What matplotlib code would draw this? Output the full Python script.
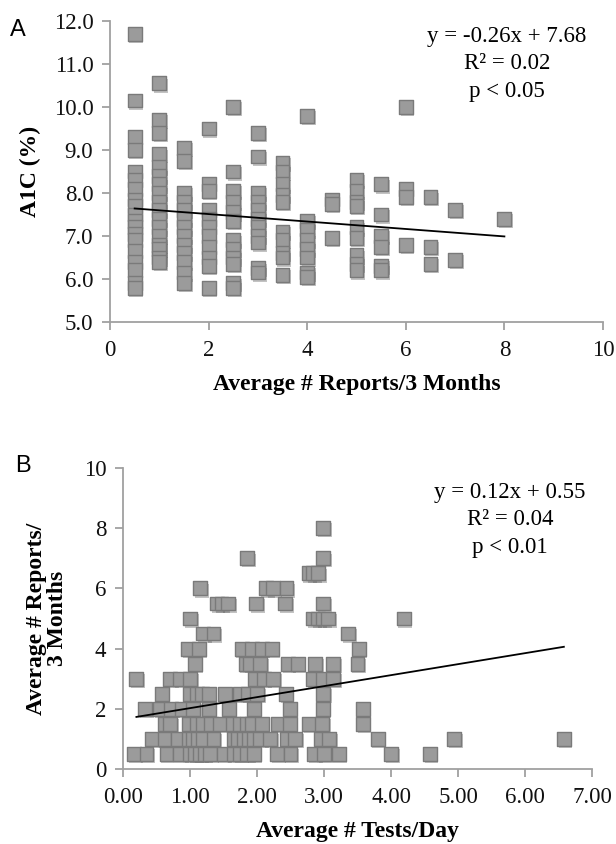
import matplotlib
matplotlib.use('Agg')
import matplotlib.pyplot as plt
import matplotlib.patheffects as pe
import numpy as np

# Panel A: A1C (%) by average # reports / 3 months (columns of points)
a_cols = [0.5, 1.0, 1.5, 2.0, 2.5, 3.0, 3.5, 4.0, 4.5, 5.0, 5.5, 6.0, 6.5, 7.0, 8.0]
a_vals = [
    [11.7, 10.15, 9.3, 9.0, 8.5, 8.3, 8.1, 7.85, 7.7, 7.5, 7.35, 7.2, 7.05, 6.9, 6.65, 6.4, 6.2, 5.9, 5.8],
    [10.55, 9.7, 9.4, 8.9, 8.6, 8.4, 8.2, 8.0, 7.8, 7.6, 7.4, 7.2, 7.0, 6.8, 6.7, 6.5, 6.4],
    [9.05, 8.75, 8.0, 7.8, 7.6, 7.4, 7.2, 7.0, 6.8, 6.6, 6.4, 6.15, 5.9],
    [9.5, 8.2, 8.05, 7.6, 7.4, 7.2, 7.0, 6.75, 6.5, 6.3, 5.8],
    [10.0, 8.5, 8.05, 7.8, 7.55, 7.35, 6.9, 6.7, 6.5, 6.35, 5.9, 5.8],
    [9.4, 8.85, 8.0, 7.8, 7.6, 7.4, 7.2, 7.0, 6.85, 6.25, 6.15],
    [8.7, 8.5, 8.2, 7.95, 7.8, 7.1, 6.9, 6.6, 6.5, 6.1],
    [9.8, 7.35, 7.15, 6.9, 6.7, 6.5, 6.15, 6.05],
    [7.85, 7.75, 6.95],
    [8.3, 8.05, 7.8, 7.7, 7.2, 6.95, 6.55, 6.35, 6.2],
    [8.2, 7.5, 7.0, 6.75, 6.3, 6.2],
    [10.0, 8.1, 7.9, 6.8],
    [7.9, 6.75, 6.35],
    [7.6, 6.45],
    [7.4],
]
a_trend_x = [0.5, 8.0]
a_trend_y = [7.64, 6.99]

# Panel B: average # reports / 3 months by average # tests / day (rows of points)
b_rows = [0.5, 1.0, 1.5, 2.0, 2.5, 3.0, 3.5, 4.0, 4.5, 5.0, 5.5, 6.0, 6.5, 7.0, 8.0]
b_xs = [
    [0.17, 0.35, 0.65, 0.85, 1.0, 1.08, 1.15, 1.22, 1.3, 1.5, 1.65, 1.75, 1.85, 1.95, 2.3, 2.5,
     2.85, 3.0, 3.22, 4.0, 4.58],
    [0.43, 0.62, 0.82, 0.98, 1.05, 1.12, 1.2, 1.35, 1.65, 1.72, 1.8, 1.88, 1.95, 2.05, 2.2,
     2.45, 2.57, 2.95, 3.08, 3.8, 4.94, 6.58],
    [0.62, 0.7, 0.98, 1.1, 1.2, 1.32, 1.45, 1.64, 1.75, 1.85, 1.93, 2.07, 2.32, 2.49, 2.78, 2.97,
     3.58],
    [0.33, 0.55, 0.72, 0.88, 1.05, 1.28, 1.58, 1.95, 2.49, 2.98, 3.58],
    [0.58, 1.0, 1.1, 1.18, 1.28, 1.52, 1.75, 1.87, 2.0, 2.43, 2.99],
    [0.2, 0.7, 0.85, 1.0, 1.97, 2.1, 2.24, 2.84, 2.98, 3.14],
    [1.07, 1.83, 1.9, 2.05, 2.46, 2.61, 2.87, 3.14, 3.5],
    [0.97, 1.13, 1.77, 1.92, 2.07, 2.22, 3.52],
    [1.2, 1.35, 3.36],
    [1.0, 2.84, 2.91, 2.99, 3.06, 4.19],
    [1.4, 1.47, 1.57, 1.99, 2.42, 2.99],
    [1.15, 2.14, 2.24, 2.44],
    [2.77, 2.84, 2.91],
    [1.85, 2.99],
    [2.99],
]
b_trend_x = [0.2, 6.58]
b_trend_y = [1.73, 4.06]

a_x = np.concatenate([[c] * len(v) for c, v in zip(a_cols, a_vals)])
a_y = np.concatenate(a_vals)
b_x = np.concatenate(b_xs)
b_y = np.concatenate([[r] * len(v) for r, v in zip(b_rows, b_xs)])

SERIF = 'Liberation Serif'
fig = plt.figure(figsize=(6.16, 8.44), dpi=100)

shadow = [pe.SimplePatchShadow(offset=(1.2, -1.6), shadow_rgbFace='#555555', alpha=0.35), pe.Normal()]


def style(ax):
    for s in ['top', 'right']:
        ax.spines[s].set_visible(False)
    for s in ['left', 'bottom']:
        ax.spines[s].set_color('#a0a0a0')
        ax.spines[s].set_linewidth(1.3)
    ax.tick_params(direction='out', length=6, width=1.3, color='#a0a0a0',
                   labelsize=16.5, labelcolor='#111111')
    ax.tick_params(axis='x', pad=7)
    ax.tick_params(axis='y', pad=6)
    for lab in ax.get_xticklabels() + ax.get_yticklabels():
        lab.set_fontfamily(SERIF)


# Panel A
ax1 = fig.add_axes([110 / 616, 1 - 322 / 844, 493 / 616, 301 / 844])
ax1.scatter(a_x, a_y, marker='s', s=100, facecolor='#9b9b9b', edgecolor='#7a7a7a',
            linewidth=1, zorder=2, path_effects=shadow)
ax1.plot(a_trend_x, a_trend_y, color='black', lw=1.3, zorder=3)
ax1.set_xlim(0, 10)
ax1.set_ylim(5, 12)
ax1.set_xticks(np.arange(0, 11, 2))
ax1.set_yticks(np.arange(5, 12.5, 1))
ax1.set_yticklabels(['%.1f' % v for v in np.arange(5, 12.5, 1)])
style(ax1)
ax1.set_xlabel('Average # Reports/3 Months', fontfamily=SERIF, fontweight='bold',
               fontsize=17, labelpad=9)
ax1.set_ylabel('A1C (%)', fontfamily=SERIF, fontweight='bold', fontsize=17, labelpad=9)
ax1.text(0.805, 0.985, 'y = -0.26x + 7.68\nR² = 0.02\np < 0.05', transform=ax1.transAxes,
         ha='center', va='top', fontfamily=SERIF, fontsize=16.5, linespacing=1.42)
fig.text(10 / 616, 1 - 30 / 844, 'A', fontsize=17, fontfamily='Liberation Sans',
         va='center', ha='left')

# Panel B
ax2 = fig.add_axes([123 / 616, 1 - 769 / 844, 469 / 616, 301 / 844])
ax2.scatter(b_x, b_y, marker='s', s=100, facecolor='#9b9b9b', edgecolor='#7a7a7a',
            linewidth=1, zorder=2, path_effects=shadow)
ax2.plot(b_trend_x, b_trend_y, color='black', lw=1.3, zorder=3)
ax2.set_xlim(0, 7)
ax2.set_ylim(0, 10)
ax2.set_xticks(np.arange(0, 8, 1))
ax2.set_xticklabels(['%.2f' % v for v in np.arange(0, 8, 1)])
ax2.set_yticks(np.arange(0, 11, 2))
style(ax2)
ax2.set_xlabel('Average # Tests/Day', fontfamily=SERIF, fontweight='bold',
               fontsize=17, labelpad=9)
ax2.set_ylabel('Average # Reports/\n3 Months', fontfamily=SERIF, fontweight='bold',
               fontsize=17, labelpad=11, linespacing=1.0)
ax2.text(0.825, 0.955, 'y = 0.12x + 0.55\nR² = 0.04\np < 0.01', transform=ax2.transAxes,
         ha='center', va='top', fontfamily=SERIF, fontsize=16.5, linespacing=1.42)
fig.text(15 / 616, 1 - 466 / 844, 'B', fontsize=17, fontfamily='Liberation Sans',
         va='center', ha='left')

fig.savefig('out.png', dpi=100)
plt.close(fig)
